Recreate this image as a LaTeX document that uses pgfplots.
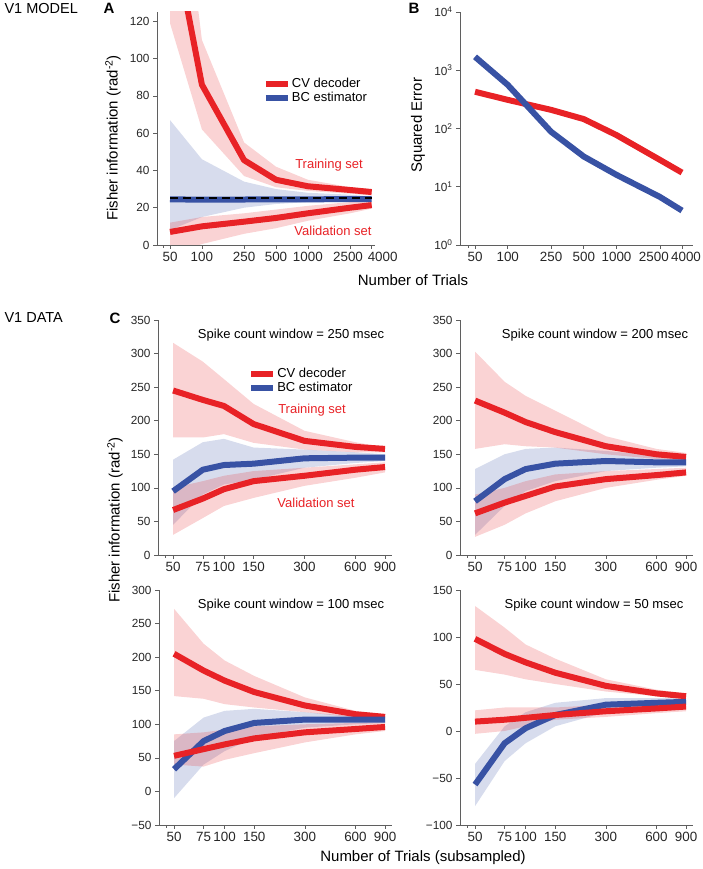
\documentclass[border=0pt]{standalone}
\usepackage{fontspec}
\setmainfont{Liberation Sans}
\usepackage{pgfplots}
\pgfplotsset{compat=1.18}
\definecolor{cvred}{RGB}{232,34,38}
\definecolor{bcblue}{RGB}{56,82,164}
\definecolor{axgray}{RGB}{95,95,95}
\newcommand{\fs}[1]{\fontsize{#1}{#1}\selectfont}
\pgfplotsset{
  every axis/.append style={
    scale only axis,
    axis lines*=left,
    axis line style={axgray, line width=0.6pt},
    tick style={axgray, line width=0.6pt},
    tick align=outside,
    major tick length=4pt,
    minor tick length=3pt,
    xticklabel style={font=\fs{13.4}, text=black!85},
    yticklabel style={font=\fs{11.8}, text=black!85},
    legend style={draw=none, fill=none, anchor=north west,
      font=\fs{13}, row sep=1pt, inner sep=0pt,
      nodes={inner sep=1pt}, cells={anchor=west}},
  },
}
\tikzset{
  band/.style={draw=none, fill=#1, fill opacity=0.2},
  ln/.style={color=#1, line width=6pt, line join=round},
}
\begin{document}
\begin{tikzpicture}[x=1pt,y=1pt]
\useasboundingbox (0,0) rectangle (702,869);

% ---------------- Panel A ----------------
\begin{axis}[at={(157pt,624pt)}, anchor=south west, width=218pt, height=233pt,
  xmode=log, xmin=37.7, xmax=4300, ymin=0, ymax=125,
  xtick={50,100,250,500,1000,2500,4000},
  xticklabels={50,100,250,500,1000,\hspace*{-4pt}2500,\hspace*{22pt}4000}, minor xtick={43},
  ytick={0,20,40,60,80,100,120}, yticklabels={0,20,40,60,80,100,120},
  legend style={at={(0.485,0.72)}},
  legend image code/.code={\draw[#1] (0pt,0pt) -- (22pt,0pt);}]
\addplot[band=bcblue, forget plot] coordinates {(50,67) (100,46) (250,34) (500,30) (1000,28) (2500,27) (4000,26)
  (4000,24) (2500,23.5) (1000,23) (500,22) (250,20) (100,15) (50,8)};
\addplot[band=cvred, forget plot] coordinates {(50,250) (100,110) (250,55) (500,42) (1000,35) (2500,31) (4000,30)
  (4000,26.5) (2500,27.5) (1000,29) (500,31) (250,37) (100,62) (50,119)};
\addplot[band=cvred, forget plot] coordinates {(50,12) (100,15) (250,17) (500,19) (1000,21) (2500,23) (4000,23.5)
  (4000,19.5) (2500,17) (1000,13) (500,9) (250,6) (100,0.5) (50,-5)};
\addplot[ln=cvred] coordinates {(50,175) (100,86) (250,45.5) (500,35) (1000,31.5) (2500,29.5) (4000,28.4)};
\addlegendentry{CV decoder}
\addplot[ln=bcblue] coordinates {(50,24.5) (100,24.3) (250,24.4) (500,24.5) (1000,24.5) (2500,24.6) (4000,24.6)};
\addlegendentry{BC estimator}
\addplot[ln=cvred, forget plot] coordinates {(50,7) (100,10) (250,12.5) (500,14.5) (1000,17) (2500,20) (4000,21.4)};
\addplot[black, line width=2.2pt, dash pattern=on 8pt off 5pt, forget plot] coordinates {(50,25) (4000,25)};
\end{axis}

% ---------------- Panel B ----------------
\begin{axis}[at={(460pt,624pt)}, anchor=south west, width=233pt, height=233pt,
  xmode=log, xmin=36.4, xmax=5050, ymode=log, ymin=1, ymax=10000,
  xtick={50,100,250,500,1000,2500,4000},
  xticklabels={50,100,250,500,1000,\hspace*{-12pt}2500,\hspace*{8pt}4000}, minor xtick={43},
  ytick={1,10,100,1000,10000},
  yticklabels={10\textsuperscript{0},10\textsuperscript{1},10\textsuperscript{2},10\textsuperscript{3},10\textsuperscript{4}},
  yminorticks=false]
\addplot[ln=cvred] coordinates {(50,427) (100,310) (250,209) (500,145) (1000,77) (2500,29) (4000,17.5)};
\addplot[ln=bcblue] coordinates {(50,1700) (100,560) (250,88) (500,33) (1000,16) (2500,6.7) (4000,3.9)};
\end{axis}

% ---------------- Panel C1 (250 msec) ----------------
\begin{axis}[at={(158pt,314pt)}, anchor=south west, width=234pt, height=235pt,
  xmode=log, xmin=40.7, xmax=990,
  xtick={50,75,100,150,300,600,900}, xticklabels={50,75,100,150,300,600,900}, minor xtick={45},
  ymin=0, ymax=350, ytick={0,50,100,150,200,250,300,350},
  yticklabels={0,50,100,150,200,250,300,350},
  legend style={at={(0.385,0.8)}},
  legend image code/.code={\draw[#1] (0pt,0pt) -- (22pt,0pt);}]
\addplot[band=bcblue, forget plot] coordinates {(50,142) (75,168) (100,173) (150,160) (300,157) (600,153) (900,150)
  (900,140) (600,137) (300,130) (150,112) (100,105) (75,90) (50,45)};
\addplot[band=cvred, forget plot] coordinates {(50,316) (75,288) (100,262) (150,225) (300,185) (600,168) (900,160)
  (900,153) (600,153) (300,157) (150,167) (100,180) (75,175) (50,175)};
\addplot[band=cvred, forget plot] coordinates {(50,100) (75,110) (100,118) (150,125) (300,130) (600,135) (900,138)
  (900,123) (600,115) (300,103) (150,85) (100,73) (75,55) (50,30)};
\addplot[ln=cvred] coordinates {(50,245) (75,231) (100,222) (150,195) (300,170) (600,161) (900,158)};
\addlegendentry{CV decoder}
\addplot[ln=bcblue] coordinates {(50,95) (75,127) (100,134) (150,136) (300,144) (600,145) (900,145)};
\addlegendentry{BC estimator}
\addplot[ln=cvred, forget plot] coordinates {(50,67) (75,84) (100,98) (150,110) (300,118) (600,127) (900,131)};
\end{axis}

% ---------------- Panel C2 (200 msec) ----------------
\begin{axis}[at={(460pt,314pt)}, anchor=south west, width=233pt, height=235pt,
  xmode=log, xmin=40.7, xmax=990,
  xtick={50,75,100,150,300,600,900}, xticklabels={50,75,100,150,300,600,900}, minor xtick={45},
  ymin=0, ymax=350, ytick={0,50,100,150,200,250,300,350},
  yticklabels={0,50,100,150,200,250,300,350}]
\addplot[band=bcblue] coordinates {(50,128) (75,150) (100,158) (150,160) (300,155) (600,148) (900,145)
  (900,132) (600,130) (300,125) (150,110) (100,95) (75,73) (50,30)};
\addplot[band=cvred] coordinates {(50,303) (75,258) (100,237) (150,215) (300,177) (600,158) (900,152)
  (900,141) (600,143) (300,150) (150,160) (100,162) (75,165) (50,158)};
\addplot[band=cvred] coordinates {(50,90) (75,100) (100,110) (150,120) (300,125) (600,128) (900,130)
  (900,118) (600,112) (300,100) (150,80) (100,62) (75,45) (50,27)};
\addplot[ln=cvred] coordinates {(50,230) (75,212) (100,198) (150,183) (300,162) (600,150) (900,146)};
\addplot[ln=bcblue] coordinates {(50,80) (75,113) (100,128) (150,136) (300,140) (600,138) (900,138)};
\addplot[ln=cvred] coordinates {(50,62) (75,78) (100,88) (150,102) (300,113) (600,119) (900,123)};
\end{axis}

% ---------------- Panel C3 (100 msec) ----------------
\begin{axis}[at={(159pt,44pt)}, anchor=south west, width=233pt, height=235pt,
  xmode=log, xmin=40.7, xmax=990,
  xtick={50,75,100,150,300,600,900}, xticklabels={50,75,100,150,300,600,900}, minor xtick={45},
  ymin=-50, ymax=300, ytick={-50,0,50,100,150,200,250,300},
  yticklabels={−50,0,50,100,150,200,250,300}]
\addplot[band=bcblue] coordinates {(50,75) (75,110) (100,120) (150,123) (300,118) (600,112) (900,110)
  (900,102) (600,100) (300,95) (150,80) (100,60) (75,40) (50,-10)};
\addplot[band=cvred] coordinates {(50,272) (75,220) (100,195) (150,172) (300,140) (600,120) (900,115)
  (900,108) (600,110) (300,118) (150,125) (100,130) (75,138) (50,142)};
\addplot[band=cvred] coordinates {(50,85) (75,88) (100,92) (150,97) (300,100) (600,102) (900,103)
  (900,90) (600,85) (300,73) (150,57) (100,47) (75,37) (50,40)};
\addplot[ln=cvred] coordinates {(50,205) (75,180) (100,165) (150,148) (300,128) (600,115) (900,111)};
\addplot[ln=bcblue] coordinates {(50,33) (75,75) (100,90) (150,102) (300,107) (600,107) (900,107)};
\addplot[ln=cvred] coordinates {(50,53) (75,63) (100,70) (150,79) (300,88) (600,93) (900,96)};
\end{axis}

% ---------------- Panel C4 (50 msec) ----------------
\begin{axis}[at={(460pt,44pt)}, anchor=south west, width=233pt, height=235pt,
  xmode=log, xmin=40.7, xmax=990,
  xtick={50,75,100,150,300,600,900}, xticklabels={50,75,100,150,300,600,900}, minor xtick={45},
  ymin=-100, ymax=150, ytick={-100,-50,0,50,100,150},
  yticklabels={−100,−50,0,50,100,150}]
\addplot[band=bcblue] coordinates {(50,-35) (75,5) (100,20) (150,30) (300,35) (600,35) (900,35)
  (900,27) (600,25) (300,20) (150,5) (100,-13) (75,-32) (50,-80)};
\addplot[band=cvred] coordinates {(50,133) (75,110) (100,92) (150,77) (300,55) (600,44) (900,40)
  (900,34) (600,37) (300,42) (150,50) (100,55) (75,60) (50,65)};
\addplot[band=cvred] coordinates {(50,22) (75,25) (100,25) (150,25) (300,28) (600,29) (900,30)
  (900,21) (600,19) (300,15) (150,12) (100,5) (75,0) (50,-3)};
\addplot[ln=cvred] coordinates {(50,98) (75,82) (100,73) (150,62) (300,48) (600,40) (900,37)};
\addplot[ln=bcblue] coordinates {(50,-57) (75,-13) (100,3) (150,17) (300,28) (600,30) (900,31)};
\addplot[ln=cvred] coordinates {(50,10) (75,12) (100,14) (150,17) (300,21) (600,24) (900,26)};
\end{axis}

% ---------------- Texts ----------------
\node[anchor=west, font=\fs{14.5}] at (1,860) {V1 MODEL};
\node[anchor=west, font=\fs{14.5}] at (1,551) {V1 DATA};
\node[font=\bfseries\fs{15}] at (109,861) {A};
\node[font=\bfseries\fs{15}] at (414,861) {B};
\node[font=\bfseries\fs{15}] at (115,551) {C};

\node[rotate=90, font=\fs{15}] at (113,731) {Fisher information (rad\textsuperscript{-2})};
\node[rotate=90, font=\fs{15}] at (418,744) {Squared Error};
\node[rotate=90, font=\fs{15}] at (115,349) {Fisher information (rad\textsuperscript{-2})};
\node[font=\fs{15}] at (413,589) {Number of Trials};
\node[font=\fs{15}] at (423,11) {Number of Trials (subsampled)};

\node[font=\fs{13}, text=cvred] at (329,704) {Training set};
\node[font=\fs{13}, text=cvred] at (333,638) {Validation set};
\node[font=\fs{13}, text=cvred] at (312,459) {Training set};
\node[font=\fs{13}, text=cvred] at (316,366) {Validation set};

\node[font=\fs{13}] at (291,534) {Spike count window = 250 msec};
\node[font=\fs{13}] at (595,534) {Spike count window = 200 msec};
\node[font=\fs{13}] at (291,264) {Spike count window = 100 msec};
\node[font=\fs{13}] at (594,264) {Spike count window = 50 msec};
\end{tikzpicture}
\end{document}
